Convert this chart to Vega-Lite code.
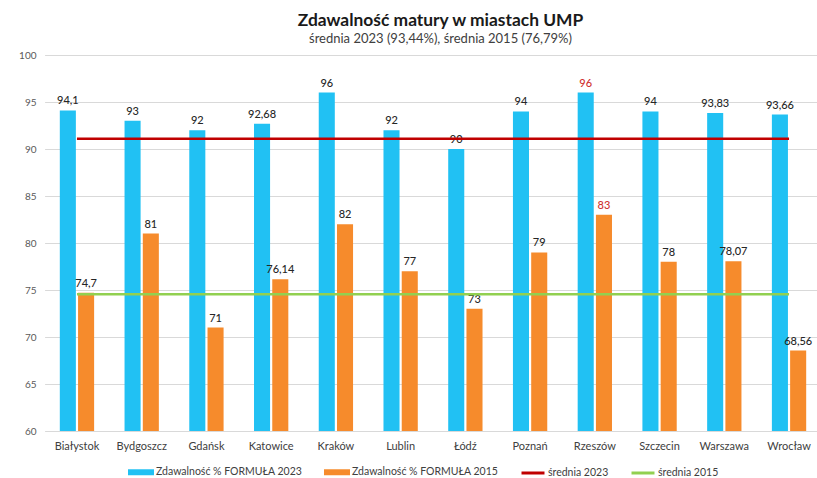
{
  "$schema": "https://vega.github.io/schema/vega-lite/v6.json",
  "width": 773,
  "height": 376,
  "autosize": {"type": "none"},
  "padding": {"left": 42, "top": 55, "right": 2, "bottom": 47},
  "background": "white",
  "config": {
    "font": "Lato",
    "view": {"stroke": null},
    "locale": {"number": {"decimal": ",", "thousands": " ", "grouping": [3], "currency": ["", " zł"]}}
  },
  "title": {
    "text": "Zdawalność matury w miastach UMP",
    "subtitle": "średnia 2023 (93,44%), średnia 2015 (76,79%)",
    "anchor": "middle",
    "dx": 12,
    "fontSize": 17.4,
    "fontWeight": "bold",
    "color": "#1a1a1a",
    "subtitleFontSize": 13,
    "subtitleColor": "#404040",
    "subtitlePadding": 4,
    "offset": 4
  },
  "data": {
    "values": [
      {"city": "Białystok", "series": "Zdawalność % FORMUŁA 2023", "value": 94.1},
      {"city": "Białystok", "series": "Zdawalność % FORMUŁA 2015", "value": 74.7},
      {"city": "Bydgoszcz", "series": "Zdawalność % FORMUŁA 2023", "value": 93},
      {"city": "Bydgoszcz", "series": "Zdawalność % FORMUŁA 2015", "value": 81},
      {"city": "Gdańsk", "series": "Zdawalność % FORMUŁA 2023", "value": 92},
      {"city": "Gdańsk", "series": "Zdawalność % FORMUŁA 2015", "value": 71},
      {"city": "Katowice", "series": "Zdawalność % FORMUŁA 2023", "value": 92.68},
      {"city": "Katowice", "series": "Zdawalność % FORMUŁA 2015", "value": 76.14},
      {"city": "Kraków", "series": "Zdawalność % FORMUŁA 2023", "value": 96},
      {"city": "Kraków", "series": "Zdawalność % FORMUŁA 2015", "value": 82},
      {"city": "Lublin", "series": "Zdawalność % FORMUŁA 2023", "value": 92},
      {"city": "Lublin", "series": "Zdawalność % FORMUŁA 2015", "value": 77},
      {"city": "Łódź", "series": "Zdawalność % FORMUŁA 2023", "value": 90},
      {"city": "Łódź", "series": "Zdawalność % FORMUŁA 2015", "value": 73},
      {"city": "Poznań", "series": "Zdawalność % FORMUŁA 2023", "value": 94},
      {"city": "Poznań", "series": "Zdawalność % FORMUŁA 2015", "value": 79},
      {"city": "Rzeszów", "series": "Zdawalność % FORMUŁA 2023", "value": 96},
      {"city": "Rzeszów", "series": "Zdawalność % FORMUŁA 2015", "value": 83},
      {"city": "Szczecin", "series": "Zdawalność % FORMUŁA 2023", "value": 94},
      {"city": "Szczecin", "series": "Zdawalność % FORMUŁA 2015", "value": 78},
      {"city": "Warszawa", "series": "Zdawalność % FORMUŁA 2023", "value": 93.83},
      {"city": "Warszawa", "series": "Zdawalność % FORMUŁA 2015", "value": 78.07},
      {"city": "Wrocław", "series": "Zdawalność % FORMUŁA 2023", "value": 93.66},
      {"city": "Wrocław", "series": "Zdawalność % FORMUŁA 2015", "value": 68.56}
    ]
  },
  "encoding": {
    "x": {
      "field": "city",
      "type": "nominal",
      "sort": null,
      "scale": {"paddingInner": 0.47, "paddingOuter": 0.235, "range": [2.6, 779.4]},
      "axis": {
        "title": null,
        "labelAngle": 0,
        "ticks": false,
        "domain": false,
        "grid": false,
        "labelPadding": 9,
        "labelFontSize": 11,
        "labelColor": "#404040"
      }
    },
    "y": {
      "field": "value",
      "type": "quantitative",
      "scale": {"domain": [60, 100], "zero": false, "nice": false},
      "axis": {
        "title": null,
        "values": [60, 65, 70, 75, 80, 85, 90, 95, 100],
        "ticks": false,
        "domain": false,
        "gridColor": "#d9d9d9",
        "gridWidth": 1,
        "labelFontSize": 10,
        "labelColor": "#595959",
        "labelPadding": 6
      }
    }
  },
  "layer": [
    {
      "mark": {"type": "bar"},
      "encoding": {
        "y2": {"datum": 60},
        "xOffset": {"field": "series", "type": "nominal", "sort": ["Zdawalność % FORMUŁA 2023", "Zdawalność % FORMUŁA 2015"], "scale": {"paddingInner": 0.12}},
        "color": {
          "field": "series",
          "type": "nominal",
          "scale": {
            "domain": ["Zdawalność % FORMUŁA 2023", "Zdawalność % FORMUŁA 2015", "średnia 2023", "średnia 2015"],
            "range": ["#21c1f3", "#f68b2c", "#c00000", "#92d050"]
          },
          "legend": {
            "title": null,
            "orient": "none",
            "legendX": 86,
            "legendY": 404,
            "direction": "horizontal",
            "columnPadding": 16,
            "labelFontSize": 10.5,
            "labelColor": "#404040",
            "labelOffset": 2,
            "symbolSize": 529,
            "symbolStrokeWidth": 3,
            "encode": {
              "symbols": {
                "update": {
                  "shape": {"signal": "indexof(datum.label, 'średnia') === 0 ? 'stroke' : 'M-1,-0.13L1,-0.13L1,0.13L-1,0.13Z'"}
                }
              }
            }
          }
        }
      }
    },
    {
      "mark": {"type": "text", "dy": -9, "fontSize": 11, "fontWeight": 500},
      "encoding": {
        "xOffset": {"field": "series", "type": "nominal", "sort": ["Zdawalność % FORMUŁA 2023", "Zdawalność % FORMUŁA 2015"]},
        "text": {"field": "value", "type": "quantitative", "format": ".4~g"},
        "color": {
          "condition": {"test": "datum.city === 'Rzeszów'", "value": "#d03030"},
          "value": "#262626"
        }
      }
    },
    {
      "transform": [{"filter": "datum.series === 'Zdawalność % FORMUŁA 2023'"}],
      "mark": {"type": "line", "strokeWidth": 2.5},
      "encoding": {
        "y": {"datum": 91.1},
        "color": {"datum": "średnia 2023"}
      }
    },
    {
      "transform": [{"filter": "datum.series === 'Zdawalność % FORMUŁA 2023'"}],
      "mark": {"type": "line", "strokeWidth": 2.5},
      "encoding": {
        "y": {"datum": 74.55},
        "color": {"datum": "średnia 2015"}
      }
    }
  ]
}
